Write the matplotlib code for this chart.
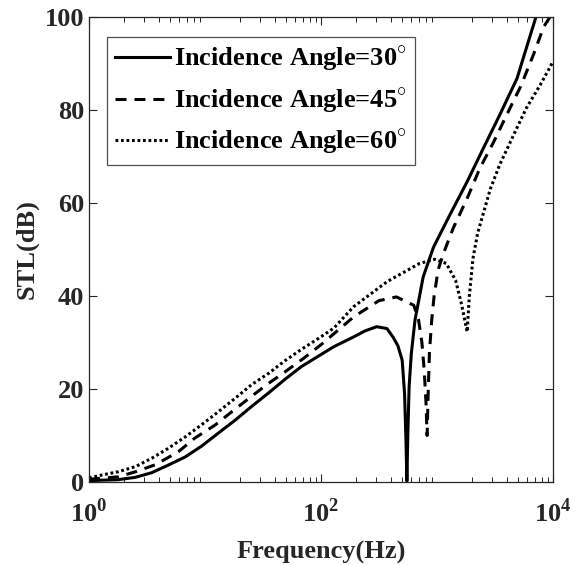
import numpy as np
import matplotlib
matplotlib.use("Agg")
import matplotlib.pyplot as plt
from matplotlib.ticker import FixedLocator, LogLocator, NullFormatter, FuncFormatter

plt.rcParams['font.family'] = ['Liberation Serif', 'DejaVu Serif']
plt.rcParams['font.weight'] = 'bold'
plt.rcParams['mathtext.fontset'] = 'custom'
plt.rcParams['mathtext.rm'] = 'Liberation Serif:bold'
plt.rcParams['mathtext.bf'] = 'Liberation Serif:bold'

# values (frequency in Hz, STL in dB)
freq_30 = [1, 1.78, 2.51, 3.47, 4.79, 6.76, 9.33, 13.0, 18.2, 25.1, 35.5, 49.0, 67.6, 95.5, 129, 191, 240,
           302, 370, 417, 460, 501, 525, 540, 550, 560, 575, 600, 646, 760, 933, 1288, 1820, 2512, 3467, 4898,
           5888, 7129, 10000]
stl_30 = [0.3, 0.5, 1.0, 2.0, 3.6, 5.4, 7.7, 10.5, 13.3, 16.2, 19.2, 22.1, 24.8, 27.1, 29.1, 31.2, 32.5,
          33.4, 33.0, 31.2, 29.3, 26.2, 19.1, 9.0, 0.2, 10.0, 20.5, 27.5, 34.8, 44.1, 50.5, 57.4, 64.6, 71.8,
          78.9, 86.8, 93.3, 100.0, 112.0]

freq_45 = [1, 1.78, 2.51, 3.72, 5.89, 8.13, 12.3, 17.0, 23.4, 33.9, 49.0, 70.8, 102, 191, 316, 447, 631, 692,
           741, 776, 804, 822, 841, 861, 902, 944, 1023, 1122, 1380, 1820, 2344, 3090, 3981, 5248, 6761, 8318, 10000]
stl_45 = [0.6, 1.1, 2.2, 3.7, 6.5, 9.4, 12.3, 15.1, 17.8, 20.9, 23.7, 26.6, 29.7, 35.5, 39.0, 39.8, 38.0, 35.0,
          30.0, 24.0, 17.0, 10.0, 20.0, 28.0, 35.0, 40.0, 45.6, 48.8, 54.6, 61.0, 67.5, 73.2, 78.9, 85.0, 91.8, 97.9, 101.0]

freq_60 = [1, 1.29, 1.78, 2.51, 3.47, 4.79, 6.76, 9.33, 13.0, 18.2, 25.1, 35.5, 49.0, 67.6, 95.5, 129, 191,
           372, 708, 955, 1202, 1445, 1622, 1820, 1900, 2040, 2240, 2880, 3467, 4571, 5888, 7762, 10000]
stl_60 = [0.9, 1.5, 2.2, 3.3, 5.1, 7.2, 9.7, 12.3, 15.1, 18.0, 20.9, 23.4, 26.1, 28.5, 30.9, 33.1, 37.7,
          43.1, 47.0, 47.9, 47.0, 43.4, 38.4, 32.3, 40.0, 48.0, 53.5, 63.0, 68.2, 74.6, 80.4, 85.4, 90.4]

labels = ['Incidence Angle=30$^{\\circ}$', 'Incidence Angle=45$^{\\circ}$', 'Incidence Angle=60$^{\\circ}$']

fig = plt.figure(figsize=(5.72, 5.65), dpi=100)
ax = fig.add_axes([89 / 572, 83 / 565, 464 / 572, 465 / 565])

ax.plot(freq_30, stl_30, color='black', lw=2.2, ls='-', label=labels[0])
ax.plot(freq_45, stl_45, color='black', lw=2.2, ls=(0, (3.6, 2.6)), label=labels[1])
ax.plot(freq_60, stl_60, color='black', lw=2.2, ls=(0, (0.9, 0.9)), label=labels[2])

ax.set_xscale('log')
ax.set_xlim(1, 1e4)
ax.set_ylim(0, 100)
ax.xaxis.set_major_locator(FixedLocator([1, 100, 10000]))
ax.xaxis.set_major_formatter(FuncFormatter(lambda v, p: '$10^{%d}$' % round(np.log10(v))))
ax.xaxis.set_minor_locator(LogLocator(base=10, subs=np.arange(2, 10), numticks=20))
ax.xaxis.set_minor_formatter(NullFormatter())
ax.set_yticks([0, 20, 40, 60, 80, 100])

for s in ax.spines.values():
    s.set_color('#262626')
    s.set_linewidth(0.9)
ax.tick_params(which='both', direction='in', top=True, right=True, colors='#262626', labelcolor='#262626')
ax.tick_params(which='major', length=6, width=0.8, labelsize=19)
ax.tick_params(which='minor', length=3.5, width=0.7)
ax.tick_params(axis='x', pad=12)

ax.set_xlabel('Frequency(Hz)', fontsize=19, fontweight='bold', color='#262626', labelpad=10)
ax.set_ylabel('STL(dB)', fontsize=19, fontweight='bold', color='#262626', labelpad=4)

leg = ax.legend(loc='upper left', bbox_to_anchor=(0.0388, 0.957), borderaxespad=0,
                fontsize=19, frameon=True, fancybox=False, handlelength=2.1,
                handletextpad=0.15, labelspacing=0.45, borderpad=0.3)
leg.get_frame().set_edgecolor('#262626')
leg.get_frame().set_linewidth(0.9)
for t in leg.get_texts():
    t.set_fontweight('bold')

fig.savefig('out.png', dpi=100)
